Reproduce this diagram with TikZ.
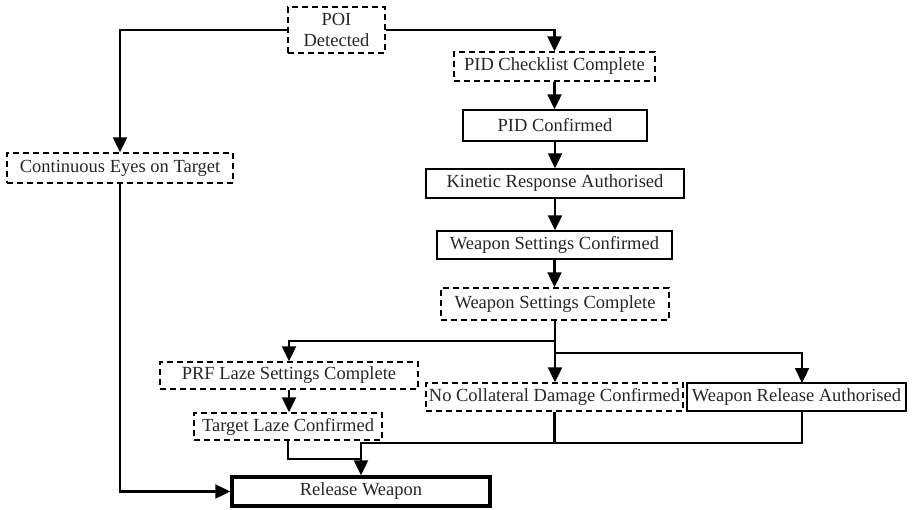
\documentclass[tikz,border=0pt]{standalone}
\usepackage{fontspec}
\setmainfont{Liberation Serif}
\newfontfamily\tnr{Liberation Serif}
\usetikzlibrary{arrows.meta}
\begin{document}
\begin{tikzpicture}[x=1pt,y=-1pt,
  box/.style={draw, line width=1.4pt, inner sep=0pt, align=center,
    font=\tnr\fontsize{18.5}{21}\selectfont, text=black!85},
  dbox/.style={box, dash pattern=on 6pt off 4pt},
  sbox/.style={box},
  tbox/.style={box, line width=3.4pt},
  conn/.style={line width=2.2pt, -{Triangle[length=15pt,width=14pt]}},
  plain/.style={line width=2.2pt}]
\useasboundingbox (0,0) rectangle (918,509);
\node[dbox, minimum width=97pt, minimum height=46pt] (poi) at (336.5,30) {POI\\Detected};
\node[dbox, minimum width=201pt, minimum height=29pt] (pidcl) at (554.5,66.5) {PID Checklist Complete};
\node[sbox, minimum width=184pt, minimum height=31pt] (pidc) at (555,125.5) {PID Confirmed};
\node[sbox, minimum width=258pt, minimum height=29pt] (kra) at (555,183.5) {Kinetic Response Authorised};
\node[sbox, minimum width=235pt, minimum height=28pt] (wsconf) at (554.5,245) {Weapon Settings Confirmed};
\node[dbox, minimum width=228pt, minimum height=32pt] (wscomp) at (555,304) {Weapon Settings Complete};
\node[dbox, minimum width=258pt, minimum height=27pt] (prf) at (289,375.5) {PRF Laze Settings Complete};
\node[dbox, minimum width=188pt, minimum height=27pt] (tlc) at (288,426.5) {Target Laze Confirmed};
\node[dbox, minimum width=257pt, minimum height=28pt] (ncd) at (554.5,397) {No Collateral Damage Confirmed};
\node[sbox, minimum width=219pt, minimum height=28pt] (wra) at (796.5,397) {Weapon Release Authorised};
\node[tbox, minimum width=258pt, minimum height=29pt] (rw) at (361,491.5) {Release Weapon};
\node[dbox, minimum width=226pt, minimum height=30pt] (eyes) at (120,168) {Continuous Eyes on Target};

\coordinate (b1) at (555,341);
\coordinate (b2) at (555,353);
\coordinate (wratop) at (802,383);
\coordinate (wrabot) at (802,411);
\coordinate (m) at (361,459);
\coordinate (h) at (361,443);

\draw[conn] (poi.west) -| (eyes.north);
\draw[conn] (poi.east) -| (pidcl.north);
\draw[conn] (pidcl.south) -- (pidcl.south |- pidc.north);
\draw[conn] (pidc.south) -- (pidc.south |- kra.north);
\draw[conn] (kra.south) -- (kra.south |- wsconf.north);
\draw[conn] (wsconf.south) -- (wsconf.south |- wscomp.north);
\draw[conn] (wscomp.south) -- (wscomp.south |- ncd.north);
\draw[conn] (b1) -| (prf.north);
\draw[conn] (b2) -| (wratop);
\draw[conn] (prf.south) -- (prf.south |- tlc.north);
\draw[conn] (tlc.south) |- (m) -- (rw.north);
\draw[plain] (ncd.south) -- (ncd.south |- h);
\draw[plain] (wrabot) |- (h) -- (m);
\draw[conn] (eyes.south) |- (rw.west);
\end{tikzpicture}
\end{document}
